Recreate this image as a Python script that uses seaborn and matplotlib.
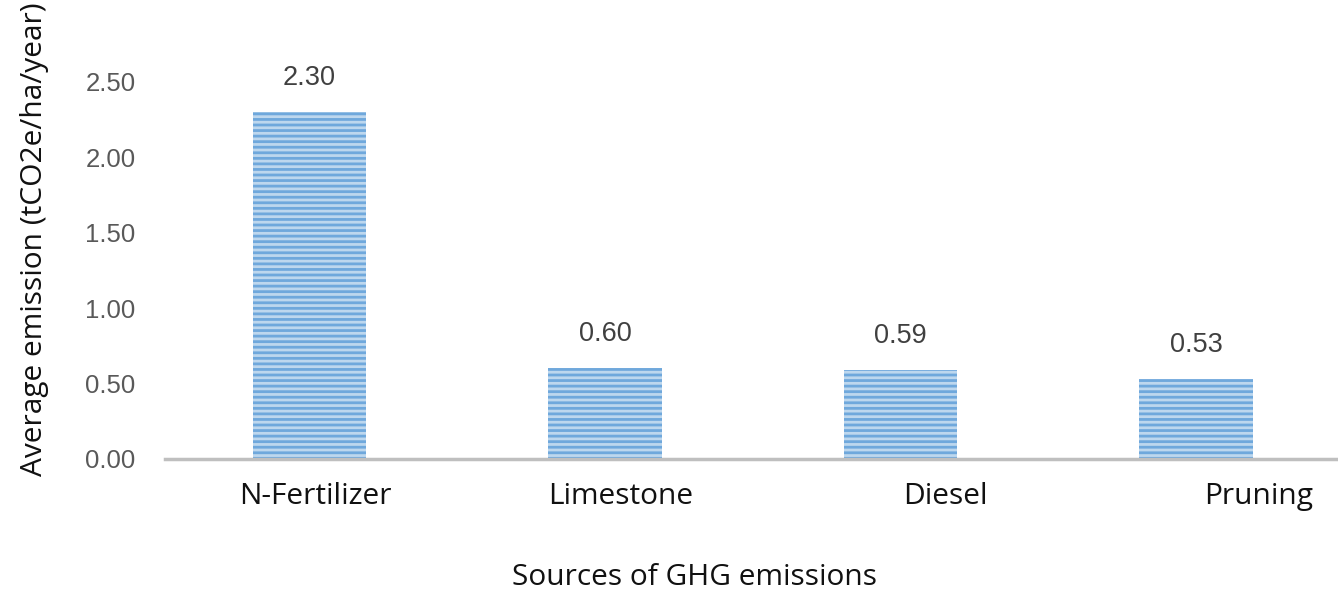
import matplotlib
matplotlib.use("Agg")
import matplotlib.pyplot as plt
import matplotlib.transforms as mtransforms
import pandas as pd
import seaborn as sns

sources = ["N-Fertilizer", "Limestone", "Diesel", "Pruning"]
emissions = [2.30, 0.60, 0.59, 0.53]
value_labels = ["2.30", "0.60", "0.59", "0.53"]
y_ticks = [0.0, 0.5, 1.0, 1.5, 2.0, 2.5]

sns.set_theme(style="white")
plt.rcParams["font.family"] = ["Open Sans", "DejaVu Sans"]
plt.rcParams["hatch.linewidth"] = 2.0

df = pd.DataFrame({"source": sources, "emission": emissions})

fig = plt.figure(figsize=(13.38, 5.92), dpi=100)
ax = fig.add_axes([0.123, 0.225, 0.877, 0.675])

sns.barplot(data=df, x="source", y="emission", color="#BDD7EE", width=0.385,
            saturation=1, ax=ax)
for bar in ax.patches:
    bar.set_hatch("---")
    bar.set_edgecolor("#6FA8DC")
    bar.set_linewidth(0)

for bar, text in zip(ax.patches, value_labels):
    ax.annotate(text, (bar.get_x() + bar.get_width() / 2, bar.get_height()),
                xytext=(0, 15), textcoords="offset points", ha="center", va="bottom",
                fontsize=19.5, color="#404040", family=["Liberation Sans", "DejaVu Sans"])

ax.set_xlim(-0.49, 3.48)
ax.set_ylim(0, 2.65)
ax.set_yticks(y_ticks)
ax.set_yticklabels([f"{v:.2f}" for v in y_ticks], color="#595959", fontsize=18.5,
                   family=["Liberation Sans", "DejaVu Sans"])
ax.tick_params(axis="y", length=0, pad=21)
ax.tick_params(axis="x", length=0, pad=17, labelsize=21.5, labelcolor="#111111")

# category labels in the source sit a little right of their bars (inches)
offsets = [0.06, 0.16, 0.45, 0.63]
for lab, off in zip(ax.get_xticklabels(), offsets):
    lab.set_transform(lab.get_transform() + mtransforms.ScaledTranslation(off, 0, fig.dpi_scale_trans))

for side in ["top", "right", "left"]:
    ax.spines[side].set_visible(False)
ax.spines["bottom"].set_color("#BFBFBF")
ax.spines["bottom"].set_linewidth(2.5)

ax.set_xlabel("Sources of GHG emissions", fontsize=21.5, color="#111111")
ax.set_ylabel("Average emission (tCO2e/ha/year)", fontsize=21.5, color="#111111")
ax.xaxis.label.set_va("center")
ax.yaxis.label.set_va("center")
ax.xaxis.set_label_coords(0.452, -0.298)
ax.yaxis.set_label_coords(-0.111, 0.55)

fig.savefig("out.png", dpi=100)
